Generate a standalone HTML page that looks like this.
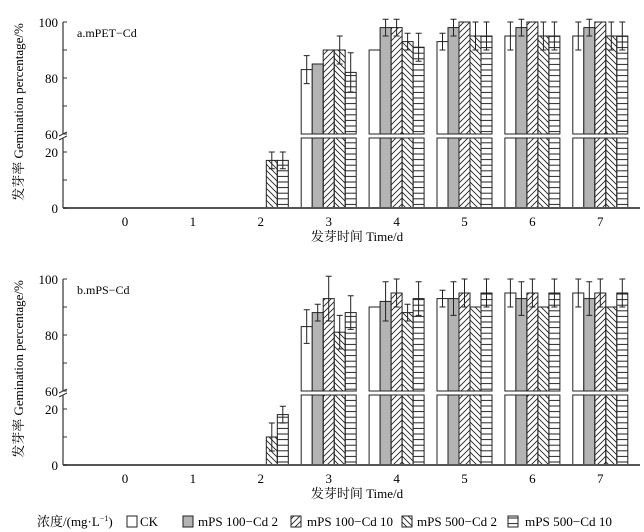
<!DOCTYPE html>
<html><head><meta charset="utf-8"><style>
html,body{margin:0;padding:0;background:#fff;width:644px;height:532px;overflow:hidden}
svg{display:block;font-family:"Liberation Serif","Noto Serif CJK SC",serif}
</style></head><body>
<svg id="chart" width="644" height="532" viewBox="0 0 644 532">
<defs>
<pattern id="pf" patternUnits="userSpaceOnUse" width="6" height="6"><path d="M-1,7 L7,-1 M-1,1 L1,-1 M5,7 L7,5" stroke="#222" stroke-width="0.9"/></pattern>
<pattern id="pb" patternUnits="userSpaceOnUse" width="6" height="6"><path d="M-1,-1 L7,7 M5,-1 L7,1 M-1,5 L1,7" stroke="#222" stroke-width="0.9"/></pattern>
<pattern id="ph" patternUnits="userSpaceOnUse" width="6" height="5.6"><path d="M0,2.8 L6,2.8" stroke="#222" stroke-width="1"/></pattern>
</defs>
<g id="panels"></g>
<g id="legend" font-size="13">
<text x="37" y="526">浓度/(mg·L<tspan font-size="8" dy="-5">−1</tspan><tspan dy="5">)</tspan></text>
<g><rect x="127" y="516" width="10" height="11" fill="#fff" stroke="#222"/><text x="140" y="526">CK</text></g>
<g><rect x="183" y="516" width="10" height="11" fill="#b4b4b4" stroke="#222"/><text x="198" y="526" textLength="80" lengthAdjust="spacingAndGlyphs">mPS 100−Cd 2</text></g>
<g><rect x="291" y="516" width="10" height="11" fill="url(#pf)" stroke="#222"/><text x="307" y="526" textLength="86" lengthAdjust="spacingAndGlyphs">mPS 100−Cd 10</text></g>
<g><rect x="402" y="516" width="10" height="11" fill="url(#pb)" stroke="#222"/><text x="417" y="526" textLength="80" lengthAdjust="spacingAndGlyphs">mPS 500−Cd 2</text></g>
<g><rect x="508" y="516" width="10" height="11" fill="url(#ph)" stroke="#222"/><text x="525" y="526" textLength="87" lengthAdjust="spacingAndGlyphs">mPS 500−Cd 10</text></g>
</g>
</svg>
<script>
const days = ["0","1","2","3","4","5","6","7"];
const seriesNames = ["CK","mPS 100-Cd 2","mPS 100-Cd 10","mPS 500-Cd 2","mPS 500-Cd 10"];
const petCK = [0,0,0,83,90,93,95,95];
const petA  = [0,0,0,85,98,98,98,98];
const petB  = [0,0,0,90,98,100,100,100];
const petC  = [0,0,17,90,93,95,95,95];
const petD  = [0,0,17,82,91,95,95,95];
const petCKerr = [0,0,0,5,0,3,5,5];
const petAerr  = [0,0,0,0,3,3,3,3];
const petBerr  = [0,0,0,0,3,0,0,0];
const petCerr  = [0,0,3,5,3,5,5,5];
const petDerr  = [0,0,3,7,5,5,5,5];
const psCK = [0,0,0,83,90,93,95,95];
const psA  = [0,0,0,88,92,93,93,93];
const psB  = [0,0,0,93,95,95,95,95];
const psC  = [0,0,10,81,88,90,90,90];
const psD  = [0,0,18,88,93,95,95,95];
const psCKerr = [0,0,0,6,0,3,5,5];
const psAerr  = [0,0,0,3,7,6,6,6];
const psBerr  = [0,0,0,8,5,5,5,5];
const psCerr  = [0,0,5,6,3,0,0,0];
const psDerr  = [0,0,3,6,6,5,5,5];
const yTicksTop = [60,80,100];
const yTicksBot = [0,20];

const NS="http://www.w3.org/2000/svg";
const fills=["#fff","#b4b4b4","url(#pf)","url(#pb)","url(#ph)"];
function mk(tag,attrs,parent){const e=document.createElementNS(NS,tag);for(const k in attrs)e.setAttribute(k,attrs[k]);parent.appendChild(e);return e;}
const x0=63, x1=640;
function xCenter(i){return 125+i*67.9;}
function drawPanel(off,label,vals,errs,key){
  const root=document.getElementById('panels');
  const g=mk('g',{},root);
  
  
  const yU=v=>22+off+(100-v)*2.8;
  const yL=v=>208+off-v*2.8;
  for(let s=0;s<5;s++){
    for(let i=0;i<days.length;i++){
      const v=vals[s][i]; const bx=xCenter(i)-27.5+s*11;
      if(v<=0){continue;}
      const bg=mk('g',{},g);
      
      
      const lowTop=Math.min(v,25);
      mk('rect',{x:bx,y:yL(lowTop),width:11,height:yL(0)-yL(lowTop),fill:fills[s],stroke:'#222','stroke-width':1},bg);
      if(v>60){mk('rect',{x:bx,y:yU(v),width:11,height:yU(60)-yU(v),fill:fills[s],stroke:'#222','stroke-width':1},bg);}
      const e=errs[s][i];
      if(e>0){
        const yy=v>60?yU:yL; const cx=bx+5.5;
        const eb=mk('path',{d:`M${cx},${yy(v+e)}V${yy(v-e)}M${cx-3},${yy(v+e)}H${cx+3}M${cx-3},${yy(v-e)}H${cx+3}`,stroke:'#222','stroke-width':1,fill:'none'},bg);
        
        
      }
    }
  }
  const ax=mk('path',{d:`M${x0},${yU(100)}V${yU(60)}M${x0},${yL(25)}V${yL(0)}`,stroke:'#333','stroke-width':1.2,fill:'none'},g);
  
  
  mk('path',{d:`M${x0-4},${yU(60)+2}L${x0+4},${yU(60)-2}M${x0-4},${yL(25)+2}L${x0+4},${yL(25)-2}`,stroke:'#333','stroke-width':1,fill:'none'},g);
  const xa=mk('line',{x1:x0,y1:yL(0),x2:x1,y2:yL(0),stroke:'#555','stroke-width':2},g);
  
  
  [60,70,80,90,100].forEach(v=>mk('line',{x1:x0,x2:x0+4,y1:yU(v),y2:yU(v),stroke:'#333'},g));
  [0,10,20].forEach(v=>mk('line',{x1:x0,x2:x0+4,y1:yL(v),y2:yL(v),stroke:'#333'},g));
  yTicksTop.forEach(v=>{const t=mk('text',{x:x0-5,y:yU(v)+5,'text-anchor':'end','font-size':13},g);t.textContent=v;
    });
  yTicksBot.forEach(v=>{const t=mk('text',{x:x0-5,y:yL(v)+5,'text-anchor':'end','font-size':13},g);t.textContent=v;
    });
  days.forEach((d,i)=>{const t=mk('text',{x:xCenter(i),y:yL(0)+18,'text-anchor':'middle','font-size':13},g);t.textContent=d;
    });
  const pl=mk('text',{x:77,y:37+off,'font-size':12},g);pl.textContent=label;
  
  const xt=mk('text',{x:357,y:241+off,'text-anchor':'middle','font-size':13},g);xt.textContent='发芽时间 Time/d';
  
  const yt=mk('text',{x:0,y:0,'text-anchor':'middle','font-size':13,transform:`translate(23,${112+off}) rotate(-90)`},g);
  yt.textContent='发芽率 Gemination percentage/%';
  
}
drawPanel(0,'a.mPET−Cd',[petCK,petA,petB,petC,petD],[petCKerr,petAerr,petBerr,petCerr,petDerr],'mpet');
drawPanel(257,'b.mPS−Cd',[psCK,psA,psB,psC,psD],[psCKerr,psAerr,psBerr,psCerr,psDerr],'mps');
</script>
</body></html>
